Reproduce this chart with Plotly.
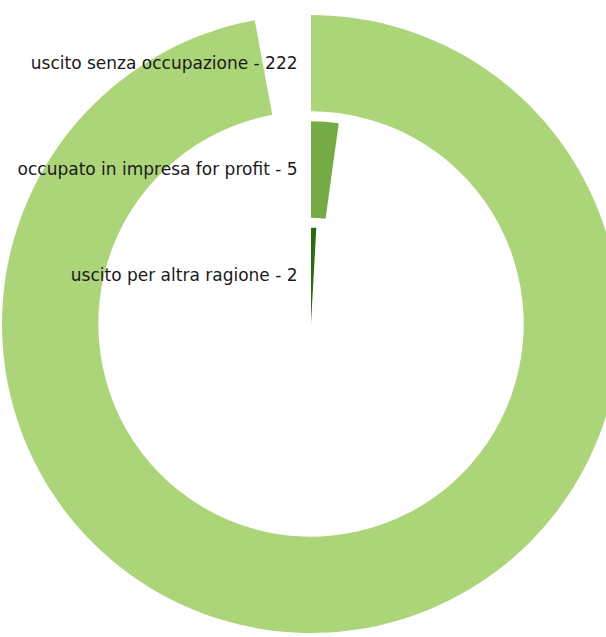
import plotly.graph_objects as go

categories = ["uscito senza occupazione", "occupato in impresa for profit", "uscito per altra ragione"]
values = [222, 5, 2]
colors = ["#acd57a", "#74ab45", "#2b6a0e"]

# full circle corresponds to max * 1.03
scale_max = max(values) * 1.03
band_gap = 0.1
band_width = 0.96

n = len(categories)
fig = go.Figure()
tickvals = []
ticktext = []
for i, (cat, val, col) in enumerate(zip(categories, values, colors)):
    ring = n - 1 - i  # outer ring first
    base = ring * (band_width + band_gap)
    ang = val / scale_max * 360.0
    fig.add_trace(go.Barpolar(
        r=[band_width], base=[base], theta=[ang / 2.0], width=[ang],
        marker=dict(color=col, line=dict(width=0)),
        name=cat, hoverinfo="text", text=[f"{cat} - {val}"],
    ))
    tickvals.append(base + band_width / 2.0)
    ticktext.append(f"{cat} - {val}")

fig.update_layout(
    width=622, height=648,
    margin=dict(l=0, r=0, t=0, b=0),
    paper_bgcolor="white",
    showlegend=False,
    font=dict(family="DejaVu Sans", size=17, color="#1a1a1a"),
    polar=dict(
        domain=dict(x=[0, 1], y=[0, 1]),
        bgcolor="white",
        barmode="overlay",
        angularaxis=dict(rotation=90, direction="clockwise", showgrid=False,
                         showline=False, ticks="", showticklabels=False),
        radialaxis=dict(range=[0, 3.1], angle=90, tickangle=90, side="counterclockwise",
                        tickvals=tickvals, ticktext=ticktext, showgrid=False,
                        showline=False, ticks="outside", ticklen=7,
                        tickcolor="rgba(0,0,0,0)", layer="above traces",
                        tickfont=dict(family="DejaVu Sans", size=17, color="#1a1a1a")),
    ),
)

fig.write_html("out.html", config={"displayModeBar": False},
               post_script="document.body.style.margin='0';document.body.style.overflow='hidden';")
